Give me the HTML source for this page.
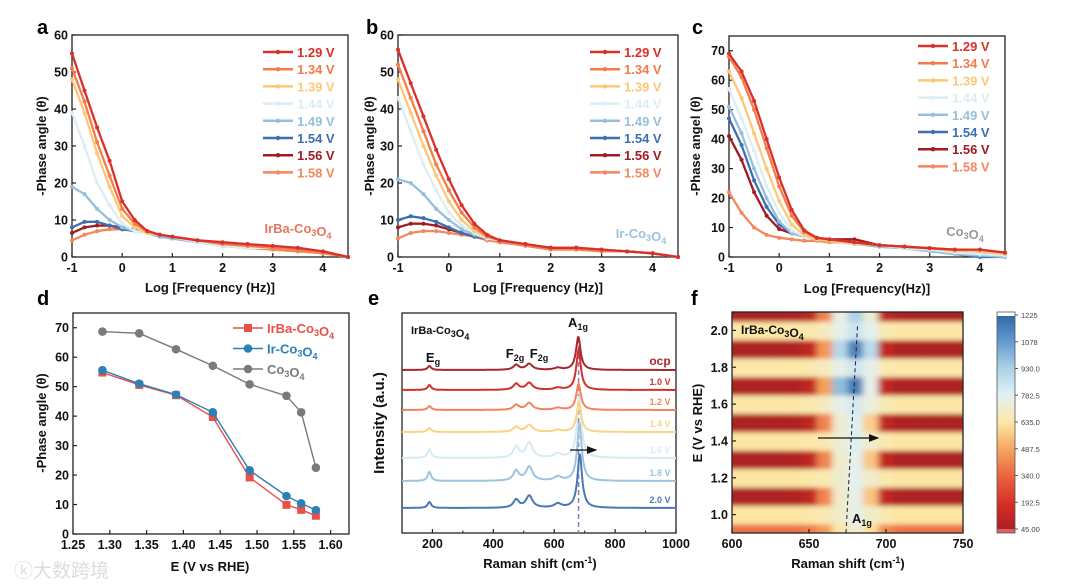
<!DOCTYPE html>
<html><head><meta charset="utf-8"><style>
html,body{margin:0;padding:0;background:#fff;}
svg{display:block;font-family:"Liberation Sans","Noto Sans CJK SC",sans-serif;font-weight:bold;}
</style></head><body>
<svg id="fig" width="1080" height="587" viewBox="0 0 1080 587" xmlns="http://www.w3.org/2000/svg">
<defs>
<filter id="blurf" x="-5%" y="-5%" width="110%" height="110%"><feGaussianBlur stdDeviation="3.5 2.5"/></filter>
<clipPath id="clipf"><rect x="732" y="312" width="231" height="221"/></clipPath>
<linearGradient id="cbar" x1="0" y1="1" x2="0" y2="0">
<stop offset="0" stop-color="#a51d22"/><stop offset="0.125" stop-color="#d42d26"/><stop offset="0.25" stop-color="#e9603e"/><stop offset="0.375" stop-color="#f5a35e"/><stop offset="0.5" stop-color="#fde7a5"/><stop offset="0.625" stop-color="#e2f1f4"/><stop offset="0.75" stop-color="#a9d0e6"/><stop offset="0.875" stop-color="#5f98cb"/><stop offset="1" stop-color="#2d5fa3"/>
</linearGradient>
<marker id="arr" markerWidth="8" markerHeight="6" refX="7" refY="3" orient="auto"><path d="M0,0 L8,3 L0,6 z" fill="#111"/></marker>
</defs>
<text x="14" y="577" font-size="19" fill="#ddd" font-weight="normal">ⓚ大数跨境</text>
</svg>
<script>
// ---------- data ----------
const FREQ = [-1,-0.75,-0.5,-0.25,0,0.25,0.5,0.75,1,1.5,2,2.5,3,3.5,4,4.5];
const VOLT_LABELS = ['1.29 V','1.34 V','1.39 V','1.44 V','1.49 V','1.54 V','1.56 V','1.58 V'];
const VOLT_COLORS = ['#d9302a','#f47c4a','#fdc875','#dcedf4','#94c0dc','#3f6fb0','#9e1c22','#f4875c'];
// panel a: IrBa-Co3O4
const a129 = [55,45,35,26,15,10,7,6,5.5,4.5,4,3.5,3,2.5,1.5,0];
const a134 = [51,42,31,22,13,9,7,6,5.5,4.5,3.5,3,2.5,2,1.5,0];
const a139 = [48,39,28,19,11,8,6.5,6,5.5,4.5,3.5,3,2.5,2,1.5,0];
const a144 = [39,30,20,14,9,7,6.5,6,5.5,4,3,2.5,2.5,2,1.5,0];
const a149 = [19,17,13,10,8,7,6.5,5.5,5,4,3,2.5,2.5,2,1.5,0];
const a154 = [8,9.5,9.5,8.5,7.5,7,6.5,5.5,5,4,3,2.5,2.5,2,1.5,0];
const a156 = [6.5,8,8.5,8.5,8,7.5,7,6,5.5,4.5,3,3,2.5,2,1.5,0];
const a158 = [4.5,6,7,7.5,7.5,7.5,7,6,5.5,4.5,3,2.5,2,1.5,1,0];
// panel b: Ir-Co3O4
const b129 = [56,47,38,29,21,14,9,6,4.5,3.5,2.5,2.5,2,1.5,1,0];
const b134 = [52,43,34,25,18,12,8,5.5,4.5,3.5,2.5,2.5,2,1.5,1,0];
const b139 = [48,39,30,22,15,10,7,5.5,4.5,3.5,2.5,2.5,2,1.5,1,0];
const b144 = [43,34,25,18,12,8.5,6.5,5,4.5,3.5,2.5,2.5,2,1.5,1,0];
const b149 = [21,20,17,13,10,7.5,6,5,4.5,3.5,2.5,2.5,2,1.5,1,0];
const b154 = [10,11,10.5,9.5,8,6.5,5.5,5,4.5,3.5,2.5,2.5,2,1.5,1,0];
const b156 = [8,9,9,8.5,7.5,6.5,5.5,5,4.5,3.5,2.5,2.5,2,1.5,1,0];
const b158 = [5,6.5,7,7,6.5,6,5.5,4.5,4,3,2,2,1.5,1.5,1,0];
// panel c: Co3O4
const c129 = [69,63,53,40,27,16,9,6.5,6,5,4,3.5,3,2.5,2.5,1.5];
const c134 = [68,61,50,37,24,14,8.5,6.5,6,5,4,3.5,3,2.5,2.5,1.5];
const c139 = [63,54,42,30,19,11,7.5,6,5.5,4.5,4,3.5,3,2,2,1];
const c144 = [57,47,36,24,15,9,7,6,5.5,4.5,4,3,2.5,1.5,1,0.5];
const c149 = [51,42,30,20,12,8,7,6,5.5,4.5,3.5,3,2,1,0.5,0];
const c154 = [47,38,26,17,11,8,7,6,5.5,4.5,3.5,3,2,1,0,0];
const c156 = [41,33,22,14,9.5,8,7,6.5,6,6,4,3.5,2.5,1.5,1,0.5];
const c158 = [22,15,10,7.5,6.5,6,5.5,5.5,5,5,4,3.5,3,2.5,2,1];
// panel d
const D_E = [1.29,1.34,1.39,1.44,1.49,1.54,1.56,1.58];
const D_IRBA = [54.8,50.6,47.1,39.7,19.2,9.9,8.2,6.2];
const D_IR = [55.6,51.0,47.3,41.3,21.6,12.9,10.4,8.1];
const D_CO = [68.7,68.1,62.7,57.1,50.8,46.9,41.3,22.5];
// panel e: Raman spectra
const E_LABELS = ['ocp','1.0 V','1.2 V','1.4 V','1.6 V','1.8 V','2.0 V'];
const E_COLORS = ['#a8282e','#d2302b','#f2835a','#fbd383','#d6ebf3','#9cc4e0','#4a78b5'];
const E_OFFSET = [163,143,123,101,75,52,25];
const E_A1G_POS = [679,680,680,681,682,683,684];
const E_A1G_H = [33,40,26,30,62,58,54];
const E_EG_H = [4,5,4,4,9,9,6];
const E_F475_H = [5,6,5,5,11,10,8];
const E_F518_H = [6,7,7,7,15,14,12];
const E_F610_H = [2,2,2,2,4,4,4];
// panel f: heatmap
const F_SHIFT = [600,610,620,630,640,650,660,670,680,690,700,710,720,730,740,750];
const F_E = [0.9,1.0,1.1,1.2,1.3,1.4,1.5,1.6,1.7,1.8,1.9,2.0,2.1];
const F_ROW09 = [380,380,380,380,380,400,470,640,720,620,430,380,380,380,380,380];
const F_ROW10 = [630,630,630,630,630,640,660,700,760,700,650,630,630,630,630,630];
const F_ROW11 = [70,70,70,70,80,120,420,700,760,560,130,70,70,70,70,70];
const F_ROW12 = [630,630,630,630,630,640,660,710,770,700,650,630,630,630,630,630];
const F_ROW13 = [70,70,70,70,80,120,420,700,770,560,130,70,70,70,70,70];
const F_ROW14 = [630,630,630,630,630,640,660,720,790,710,650,630,630,630,630,630];
const F_ROW15 = [70,70,70,70,80,120,420,710,790,580,130,70,70,70,70,70];
const F_ROW16 = [640,640,640,640,640,650,680,760,820,740,660,640,640,640,640,640];
const F_ROW17 = [70,70,70,70,80,130,480,980,1150,760,130,70,70,70,70,70];
const F_ROW18 = [640,640,640,640,640,650,680,760,830,760,660,640,640,640,640,640];
const F_ROW19 = [70,70,70,70,80,130,460,900,1130,880,130,70,70,70,70,70];
const F_ROW20 = [640,640,640,640,640,650,680,760,840,770,660,640,640,640,640,640];
const F_ROW21 = [70,70,70,70,80,120,420,760,920,720,130,70,70,70,70,70];
const CB_TICKS = ['1225','1078','930.0','782.5','635.0','487.5','340.0','192.5','45.00'];

// ---------- helpers ----------
const svg = document.getElementById('fig');
const NS = 'http://www.w3.org/2000/svg';
function mk(tag, attrs, parent){
  const e = document.createElementNS(NS, tag);
  for (const k in attrs) e.setAttribute(k, attrs[k]);
  (parent || svg).appendChild(e);
  return e;
}
function lin(d0,d1,r0,r1){ return v => r0 + (v-d0)/(d1-d0)*(r1-r0); }
function txt(s, x, y, size, fill, anchor, parent){
  const t = mk('text', {x:x, y:y, 'font-size':size, fill:fill||'#111', 'text-anchor':anchor||'middle'}, parent);
  t.textContent = s;
  return t;
}
function frame(box, name){
  const r = mk('rect', {x:box.x0, y:box.y0, width:box.x1-box.x0, height:box.y1-box.y0, fill:'none', stroke:'#222', 'stroke-width':1.3});
  
  
}
function xAxis(box, sx, ticks, labels, name){
  const g = mk('g', {});
  
  
  ticks.forEach((v,i)=>{
    const x = sx(v);
    mk('line', {x1:x, x2:x, y1:box.y1, y2:box.y1-4, stroke:'#222', 'stroke-width':1.2}, g);
    const t = txt(labels[i], x, box.y1+15, 12.5, '#111', 'middle', g);
    
    
  });
}
function yAxis(box, sy, ticks, labels, name, size){
  const g = mk('g', {});
  
  
  ticks.forEach((v,i)=>{
    const y = sy(v);
    mk('line', {x1:box.x0, x2:box.x0+4, y1:y, y2:y, stroke:'#222', 'stroke-width':1.2}, g);
    const t = txt(labels[i], box.x0-4, y+4.5, size||12.5, '#111', 'end', g);
    
    
  });
}
function yTitle(s, x, y, name){
  const t = txt('', x, y, 13, '#111', 'middle');
  t.setAttribute('transform', 'rotate(-90 '+x+' '+y+')');
  t.innerHTML = s;
  
  
}
function xTitle(s, x, y, name){
  const t = txt('', x, y, 13, '#111', 'middle');
  t.innerHTML = s;
  
  
}
function letter(s, x, y){
  const t = txt(s, x, y, 20, '#000', 'start');
  
  
}

// ---------- Bode panels a,b,c ----------
function bode(p){
  const box = p.box;
  const sx = lin(-1, 4.5, box.x0, box.x1);
  const sy = lin(0, p.ymax, box.y1, box.y0);
  frame(box, p.name);
  xAxis(box, sx, [-1,0,1,2,3,4], ['-1','0','1','2','3','4'], p.name);
  const yt = []; for (let v=0; v<=p.ymax; v+=10) yt.push(v);
  yAxis(box, sy, yt, yt.map(String), p.name);
  const g = mk('g', {});
  
  
  for (let s = p.series.length-1; s >= 0; s--){
    const vals = p.series[s];
    const col = VOLT_COLORS[s];
    const d = vals.map((v,i)=>(i?'L':'M')+sx(FREQ[i]).toFixed(1)+','+sy(v).toFixed(1)).join(' ');
    const path = mk('path', {d:d, fill:'none', stroke:col, 'stroke-width':2.3, 'stroke-linejoin':'round'}, g);
    
    
    vals.forEach((v,i)=>{
      const c = mk('circle', {cx:sx(FREQ[i]), cy:sy(v), r:2, fill:col}, g);
      
      
    });
  }
  const lg = mk('g', {});
  
  
  VOLT_LABELS.forEach((lab,i)=>{
    const y = p.legY + i*17.2;
    const e = mk('g', {}, lg);
    
    
    mk('line', {x1:p.legX, x2:p.legX+30, y1:y, y2:y, stroke:VOLT_COLORS[i], 'stroke-width':2.5}, e);
    mk('circle', {cx:p.legX+15, cy:y, r:2.2, fill:VOLT_COLORS[i]}, e);
    txt(lab, p.legX+34, y+5, 13, VOLT_COLORS[i], 'start', e);
  });
  const lab = txt('', p.labX, p.labY, 13, p.labCol, 'middle');
  lab.innerHTML = p.lab;
  
  
}
const SUB = (n)=>'<tspan font-size="9" dy="3">'+n+'</tspan><tspan dy="-3"></tspan>';
bode({name:'panel-a', box:{x0:72,x1:348,y0:35,y1:257}, ymax:60, series:[a129,a134,a139,a144,a149,a154,a156,a158], legX:263, legY:52, lab:'IrBa-Co'+SUB(3)+'O'+SUB(4), labX:298, labY:233, labCol:'#e8765e'});
bode({name:'panel-b', box:{x0:398,x1:678,y0:35,y1:257}, ymax:60, series:[b129,b134,b139,b144,b149,b154,b156,b158], legX:590, legY:52, lab:'Ir-Co'+SUB(3)+'O'+SUB(4), labX:641, labY:238, labCol:'#9cc4e0'});
bode({name:'panel-c', box:{x0:729,x1:1005,y0:36,y1:257}, ymax:75, series:[c129,c134,c139,c144,c149,c154,c156,c158], legX:918, legY:46, lab:'Co'+SUB(3)+'O'+SUB(4), labX:965, labY:236, labCol:'#999'});
letter('a', 37, 34); letter('b', 366, 34); letter('c', 692, 34);
yTitle('-Phase angle (θ)', 46, 146, 'panel-a-y-title');
yTitle('-Phase angle (θ)', 374, 146, 'panel-b-y-title');
yTitle('-Phase angel (θ)', 700, 146, 'panel-c-y-title');
xTitle('Log [Frequency (Hz)]', 210, 292, 'panel-a-x-title');
xTitle('Log [Frequency (Hz)]', 538, 292, 'panel-b-x-title');
xTitle('Log [Frequency(Hz)]', 867, 293, 'panel-c-x-title');

// ---------- panel d ----------
(function(){
  const box = {x0:73,x1:349,y0:313,y1:534};
  const sx = lin(1.25, 1.625, box.x0, box.x1);
  const sy = lin(0, 75, box.y1, box.y0);
  frame(box, 'panel-d');
  const xt = [1.25,1.30,1.35,1.40,1.45,1.50,1.55,1.60];
  xAxis(box, sx, xt, xt.map(v=>v.toFixed(2)), 'panel-d');
  const yt = [0,10,20,30,40,50,60,70];
  yAxis(box, sy, yt, yt.map(String), 'panel-d');
  const S = [{v:D_CO,c:'#7a7a7a',m:'c',n:'co3o4-series'},{v:D_IRBA,c:'#e8504a',m:'s',n:'irba-co3o4-series'},{v:D_IR,c:'#2b80b5',m:'c',n:'ir-co3o4-series'}];
  S.forEach(s=>{
    const g = mk('g', {});
    
    
    const d = s.v.map((v,i)=>(i?'L':'M')+sx(D_E[i]).toFixed(1)+','+sy(v).toFixed(1)).join(' ');
    mk('path', {d:d, fill:'none', stroke:s.c, 'stroke-width':1.4}, g);
    s.v.forEach((v,i)=>{
      let m;
      if (s.m==='s') m = mk('rect', {x:sx(D_E[i])-4, y:sy(v)-4, width:8, height:8, fill:s.c}, g);
      else m = mk('circle', {cx:sx(D_E[i]), cy:sy(v), r:4.3, fill:s.c}, g);
      
      
    });
  });
  const L = [{t:'IrBa-Co'+SUB(3)+'O'+SUB(4),c:'#e8504a',m:'s'},{t:'Ir-Co'+SUB(3)+'O'+SUB(4),c:'#2b80b5',m:'c'},{t:'Co'+SUB(3)+'O'+SUB(4),c:'#7a7a7a',m:'c'}];
  const lg = mk('g', {});
  
  
  L.forEach((l,i)=>{
    const y = 328 + i*20.5;
    const e = mk('g', {}, lg);
    
    
    mk('line', {x1:233, x2:263, y1:y, y2:y, stroke:l.c, 'stroke-width':1.5}, e);
    if (l.m==='s') mk('rect', {x:244, y:y-4, width:8, height:8, fill:l.c}, e);
    else mk('circle', {cx:248, cy:y, r:4.3, fill:l.c}, e);
    const t = txt('', 267, y+5, 13, l.c, 'start', e);
    t.innerHTML = l.t;
  });
  letter('d', 37, 305);
  yTitle('-Phase angle (θ)', 46, 423, 'panel-d-y-title');
  xTitle('E (V vs RHE)', 210, 571, 'panel-d-x-title');
})();

// ---------- panel e ----------
(function(){
  const box = {x0:402,x1:676,y0:313,y1:533};
  const sx = lin(100, 1000, box.x0, box.x1);
  const sy = lin(0, 220, box.y1, box.y0);
  frame(box, 'panel-e');
  const xt = [200,400,600,800,1000];
  xAxis(box, sx, xt, xt.map(String), 'panel-e');
  [300,500,700,900].forEach(v=>mk('line',{x1:sx(v),x2:sx(v),y1:box.y1,y2:box.y1-2.5,stroke:'#222'}));
  function lor(x,c,h,w){ return h/(1+((x-c)/w)*((x-c)/w)); }
  const dl = mk('line', {x1:sx(680), x2:sx(680), y1:338, y2:box.y1, stroke:'#8c82b4', 'stroke-width':1.6, 'stroke-dasharray':'5,3'});
  
  
  for (let s = E_LABELS.length-1; s >= 0; s--){
    const pts = [];
    for (let x = 100; x <= 1000; x += 2){
      const y = E_OFFSET[s] + lor(x,190,E_EG_H[s],7) + lor(x,475,E_F475_H[s],11) + lor(x,518,E_F518_H[s],13) + lor(x,612,E_F610_H[s],14) + lor(x,E_A1G_POS[s],E_A1G_H[s],9);
      pts.push(sx(x).toFixed(1)+','+sy(y).toFixed(1));
    }
    const p = mk('path', {d:'M'+pts.join(' L'), fill:'none', stroke:E_COLORS[s], 'stroke-width':2});
    
    
    const t = txt(E_LABELS[s], 660, sy(E_OFFSET[s])-5, s===0?12:9, E_COLORS[s], 'middle');
    
    
  }
  const ar = mk('line', {x1:570, x2:596, y1:450, y2:450, stroke:'#111', 'stroke-width':1.3, 'marker-end':'url(#arr)'});
  
  
  const lbs = [{t:'IrBa-Co'+SUB(3)+'O'+SUB(4), x:411, y:334, a:'start', s:11},{t:'E'+SUB('g'),x:433,y:362,a:'middle',s:13},{t:'F'+SUB('2g'),x:515,y:358,a:'middle',s:13},{t:'F'+SUB('2g'),x:539,y:358,a:'middle',s:13},{t:'A'+SUB('1g'),x:578,y:327,a:'middle',s:13}];
  lbs.forEach(l=>{
    const t = txt('', l.x, l.y, l.s, '#111', l.a);
    t.innerHTML = l.t;
    
    
  });
  letter('e', 368, 305);
  const yt = txt('Intensity (a.u.)', 384, 423, 15, '#111', 'middle');
  yt.setAttribute('transform', 'rotate(-90 384 423)');
  
  
  xTitle('Raman shift (cm<tspan font-size="9" dy="-5">-1</tspan><tspan dy="5">)</tspan>', 540, 568, 'panel-e-x-title');
})();

// ---------- panel f ----------
(function(){
  const box = {x0:732,x1:963,y0:312,y1:533};
  const sx = lin(600, 750, box.x0, box.x1);
  const sy = lin(0.9, 2.1, box.y1, box.y0);
  const CV = [45,192.5,340,487.5,635,782.5,930,1078,1225];
  const CC = [[165,29,34],[212,45,38],[233,96,62],[245,163,94],[253,231,165],[226,241,244],[169,208,230],[95,152,203],[45,95,163]];
  function cmap(v){
    if (v<=CV[0]) return 'rgb('+CC[0]+')';
    for (let i=1;i<CV.length;i++){
      if (v<=CV[i]){
        const f=(v-CV[i-1])/(CV[i]-CV[i-1]);
        return 'rgb('+CC[i-1].map((c,k)=>Math.round(c+(CC[i][k]-c)*f)).join(',')+')';
      }
    }
    return 'rgb('+CC[CC.length-1]+')';
  }
  const ROWS = [F_ROW09,F_ROW10,F_ROW11,F_ROW12,F_ROW13,F_ROW14,F_ROW15,F_ROW16,F_ROW17,F_ROW18,F_ROW19,F_ROW20,F_ROW21];
  const clipG = mk('g', {'clip-path':'url(#clipf)'});
  
  
  const g = mk('g', {filter:'url(#blurf)'}, clipG);
  const dx = sx(610)-sx(600), dy = sy(0.9)-sy(1.0);
  ROWS.forEach((row,r)=>{
    row.forEach((v,c)=>{
      let x = sx(F_SHIFT[c])-dx/2, w = dx+0.6, y = sy(F_E[r])-dy/2, h = dy+0.6;
      if (c===0){ x -= 15; w += 15; }
      if (c===row.length-1){ w += 15; }
      if (r===0){ h += 15; }
      if (r===ROWS.length-1){ y -= 15; h += 15; }
      const cell = mk('rect', {x:x, y:y, width:w, height:h, fill:cmap(v)}, g);
      
      
    });
  });
  frame(box, 'panel-f');
  const xt=[600,650,700,750];
  xAxis(box, sx, xt, xt.map(String), 'panel-f');
  const ytk=[1.0,1.2,1.4,1.6,1.8,2.0];
  yAxis(box, sy, ytk, ytk.map(v=>v.toFixed(1)), 'panel-f');
  const dl = mk('line', {x1:sx(674), y1:box.y1, x2:sx(681.5), y2:box.y0+14, stroke:'#222', 'stroke-width':1, 'stroke-dasharray':'4,3'});
  
  
  const ar = mk('line', {x1:818, x2:878, y1:438, y2:438, stroke:'#111', 'stroke-width':1.3, 'marker-end':'url(#arr)'});
  
  
  const t1 = txt('', 741, 334, 12, '#111', 'start');
  t1.innerHTML = 'IrBa-Co'+SUB(3)+'O'+SUB(4);
  
  
  const t2 = txt('', 852, 523, 13, '#111', 'start');
  t2.innerHTML = 'A'+SUB('1g');
  
  
  const cb = mk('g', {});
  
  
  mk('rect', {x:997, y:312, width:18, height:221, fill:'url(#cbar)'}, cb);
  mk('rect', {x:997, y:312, width:18, height:4, fill:'#fff'}, cb);
  mk('rect', {x:997, y:529, width:18, height:4, fill:'#e06060'}, cb);
  mk('rect', {x:997, y:312, width:18, height:221, fill:'none', stroke:'#555', 'stroke-width':0.8}, cb);
  CB_TICKS.forEach((l,i)=>{
    const y = 315 + i*(529-315)/8;
    mk('line', {x1:1015, x2:1018, y1:y, y2:y, stroke:'#555'}, cb);
    const t = txt(l, 1021, y+3, 7.5, '#444', 'start', cb);
    t.setAttribute('font-weight', 'normal');
    
    
  });
  letter('f', 691, 305);
  yTitle('E (V vs RHE)', 702, 423, 'panel-f-y-title');
  xTitle('Raman shift (cm<tspan font-size="9" dy="-5">-1</tspan><tspan dy="5">)</tspan>', 848, 568, 'panel-f-x-title');
})();
</script>
</body></html>
